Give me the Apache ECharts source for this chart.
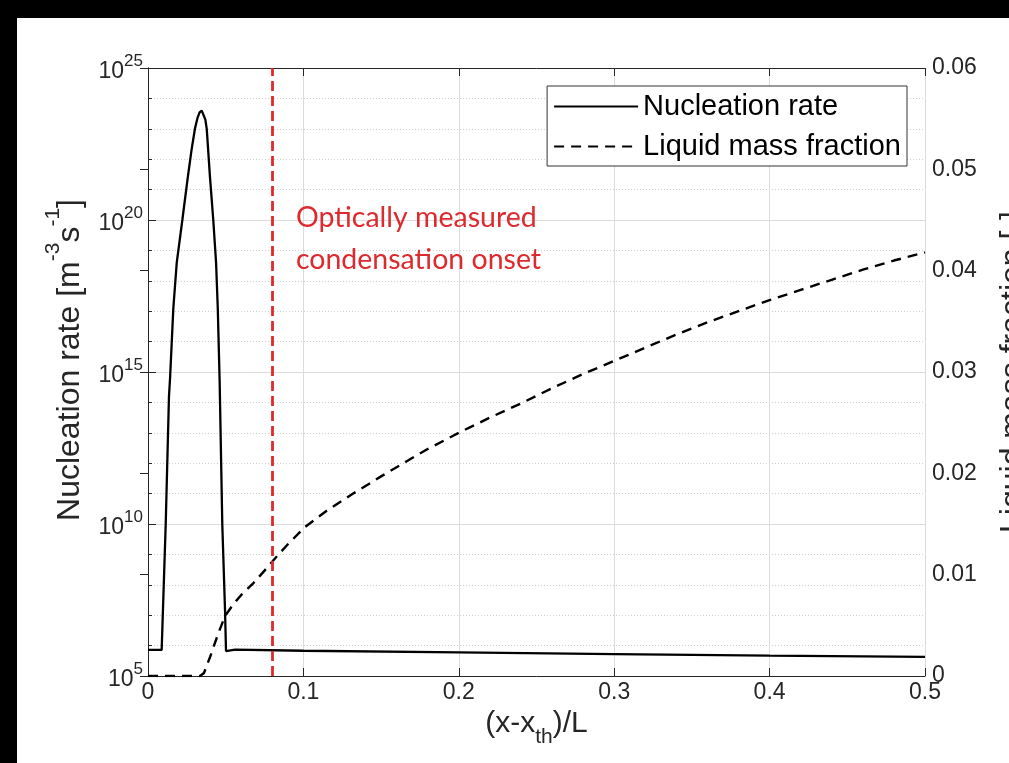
<!DOCTYPE html>
<html>
<head>
<meta charset="utf-8">
<script src="https://cdn.jsdelivr.net/npm/echarts@6/dist/echarts.min.js"></script>
<style>
html,body{margin:0;padding:0;background:#fff;overflow:hidden;}
#c{width:1009px;height:763px;}
</style>
</head>
<body>
<div id="c"></div>
<script>
// ---- data ----
const xTicks = [0, 0.1, 0.2, 0.3, 0.4, 0.5];
const leftTickExps = [5, 10, 15, 20, 25];
const rightTicks = [0, 0.01, 0.02, 0.03, 0.04, 0.05, 0.06];

// Nucleation rate: x positions and log10 of rate [m^-3 s^-1]
const nucleationX = [0, 0.0088, 0.0114, 0.0135, 0.0142, 0.0163, 0.0185, 0.0221, 0.0256, 0.0280, 0.0302, 0.0318, 0.0332, 0.0346, 0.0358, 0.0369, 0.0378, 0.0399, 0.0420, 0.0438, 0.0449, 0.0461, 0.0478, 0.0496, 0.0502, 0.056, 0.1, 0.2, 0.3, 0.4, 0.5];
const nucleationExp = [5.86, 5.86, 10.0, 14.2, 14.8, 17.1, 18.6, 20.0, 21.4, 22.3, 23.0, 23.35, 23.54, 23.6, 23.54, 23.3, 23.0, 21.4, 20.0, 18.6, 17.1, 14.7, 10.0, 7.1, 5.82, 5.87, 5.83, 5.78, 5.72, 5.67, 5.63];

// Liquid mass fraction [-]
const liquidX = [0, 0.02, 0.0335, 0.036, 0.04, 0.045, 0.0495, 0.055, 0.06, 0.068, 0.075, 0.0817, 0.09, 0.101, 0.115, 0.132, 0.15, 0.1665, 0.18, 0.2, 0.22, 0.24, 0.26, 0.28, 0.3, 0.32, 0.34, 0.36, 0.38, 0.4, 0.42, 0.44, 0.46, 0.48, 0.5];
const liquidFrac = [0, 0, 0, 0.0003, 0.0019, 0.0041, 0.0059, 0.0071, 0.0080, 0.0092, 0.0104, 0.0116, 0.0130, 0.0147, 0.0163, 0.0180, 0.0197, 0.0212, 0.0224, 0.0240, 0.0255, 0.0269, 0.0284, 0.0298, 0.0311, 0.0324, 0.0337, 0.0349, 0.0360, 0.0371, 0.0381, 0.0391, 0.0401, 0.0410, 0.0418];

const onsetX = 0.0817;
const onsetText = ['Optically measured', 'condensation onset'];
const onsetTextPos = [0.0952, 20.76];

// ---- chart ----
const FONT = "'Liberation Sans', Arial, sans-serif";
const AX = '#262626';
const chart = echarts.init(document.getElementById('c'), null, {renderer: 'canvas'});

const zip = (xs, ys) => xs.map((x, i) => [x, ys[i]]);

const option = {
  animation: false,
  backgroundColor: '#ffffff',
  grid: {left: 148, top: 68, right: 84, bottom: 87, containLabel: false, outerBoundsMode: 'none'},
  legend: {
    orient: 'vertical',
    right: 102, top: 86,
    padding: [6, 6, 5, 6],
    itemGap: 11,
    itemWidth: 84, itemHeight: 27,
    backgroundColor: '#ffffff',
    borderColor: '#333333', borderWidth: 1,
    itemStyle: {opacity: 0},
    textStyle: {fontFamily: FONT, fontSize: 29, color: '#000'},
    data: ['Nucleation rate', 'Liquid mass fraction']
  },
  xAxis: [{
    type: 'value', min: 0, max: 0.5, interval: 0.1, position: 'bottom',
    name: '{a|(x-x}{b|th}{a|)/L}', nameLocation: 'middle', nameGap: 27,
    nameTextStyle: {
      rich: {
        a: {fontFamily: FONT, fontSize: 30, color: AX, verticalAlign: 'top', padding: [0, 0, 9, 0]},
        b: {fontFamily: FONT, fontSize: 21, color: AX, verticalAlign: 'bottom'}
      }
    },
    axisLine: {show: true, lineStyle: {color: AX, width: 1}},
    axisTick: {show: true, inside: true, length: 8, lineStyle: {color: AX}},
    axisLabel: {fontFamily: FONT, fontSize: 23, color: AX, margin: 5},
    splitLine: {show: true, lineStyle: {color: '#dcdcdc', width: 1}}
  }, {
    type: 'value', min: 0, max: 0.5, interval: 0.1, position: 'top',
    axisLine: {show: true, lineStyle: {color: AX, width: 1}},
    axisTick: {show: true, inside: true, length: 8, lineStyle: {color: AX}},
    axisLabel: {show: false},
    splitLine: {show: false}
  }],
  yAxis: [{
    type: 'value', min: 5, max: 25, interval: 5, position: 'left',
    name: '{a|Nucleation rate [m}{s|-3}{a|s}{s|-1}{a|]}',
    nameLocation: 'middle', nameRotate: 90, nameGap: 62,
    nameTextStyle: {
      padding: [0, 0, 0, 24],
      rich: {
        a: {fontFamily: FONT, fontSize: 32, color: AX, verticalAlign: 'bottom', padding: [11, 0, 0, 0]},
        s: {fontFamily: FONT, fontSize: 21, color: AX, verticalAlign: 'top'}
      }
    },
    axisLine: {show: true, lineStyle: {color: AX, width: 1}},
    axisTick: {show: true, inside: true, length: 8, lineStyle: {color: AX}},
    minorTick: {show: true, splitNumber: 5, length: 4, lineStyle: {color: AX}},
    axisLabel: {
      margin: 5,
      formatter: v => '{b|10}{s|' + v + '}',
      rich: {
        b: {fontFamily: FONT, fontSize: 23, color: AX, verticalAlign: 'bottom', padding: [8, 0, 0, 0]},
        s: {fontFamily: FONT, fontSize: 17, color: AX, verticalAlign: 'top'}
      }
    },
    splitLine: {show: true, lineStyle: {color: '#dcdcdc', width: 1}},
    minorSplitLine: {show: true, lineStyle: {color: '#cfcfcf', width: 1, type: [1, 2]}}
  }, {
    type: 'value', min: 0, max: 0.06, interval: 0.01, position: 'right',
    name: 'Liquid mass fraction [-]',
    nameLocation: 'middle', nameRotate: 90, nameGap: 72,
    nameTextStyle: {fontFamily: FONT, fontSize: 32, color: AX},
    axisLine: {show: true, lineStyle: {color: AX, width: 1}},
    axisTick: {show: true, inside: true, length: 8, lineStyle: {color: AX}},
    axisLabel: {fontFamily: FONT, fontSize: 23, color: AX, margin: 7},
    splitLine: {show: false}
  }],
  series: [{
    name: 'Nucleation rate', type: 'line',
    xAxisIndex: 0, yAxisIndex: 0,
    data: zip(nucleationX, nucleationExp),
    symbol: 'none', showSymbol: false,
    lineStyle: {color: '#000', width: 2.3, type: 'solid'},
    itemStyle: {color: '#000'},
    z: 3
  }, {
    name: 'Liquid mass fraction', type: 'line',
    xAxisIndex: 0, yAxisIndex: 1,
    data: zip(liquidX, liquidFrac),
    symbol: 'none', showSymbol: false,
    lineStyle: {color: '#000', width: 2.4, type: [10, 7]},
    itemStyle: {color: '#000'},
    z: 3,
    markLine: {
      silent: true, symbol: ['none', 'none'],
      label: {show: false},
      lineStyle: {color: '#dd2a2e', width: 2.8, type: [10, 5]},
      data: [{xAxis: onsetX}]
    }
  }]
};
chart.setOption(option);

const p = chart.convertToPixel({xAxisIndex: 0, yAxisIndex: 0}, onsetTextPos);
chart.setOption({
  graphic: [
    {type: 'rect', left: 0, top: 0, shape: {width: 17, height: 763}, style: {fill: '#000'}, z: 100},
    {type: 'rect', left: 0, top: 0, shape: {width: 1009, height: 18}, style: {fill: '#000'}, z: 100},
    {type: 'text', x: p[0], y: p[1], z: 50,
     style: {text: onsetText.join('\n'), fill: '#dd2a2e', font: "28.5px Lato, 'Open Sans', sans-serif",
             lineHeight: 42, verticalAlign: 'top', align: 'left'}}
  ]
});
</script>
</body>
</html>
